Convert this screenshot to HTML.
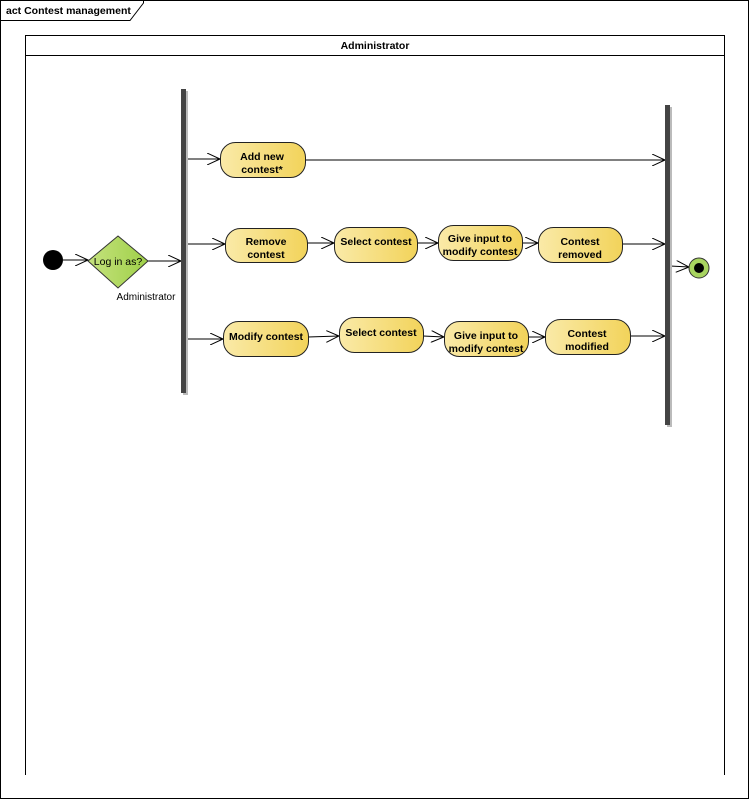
<!DOCTYPE html>
<html><head><meta charset="utf-8"><style>body{margin:0;background:#fff}svg{display:block}text{font-family:"Liberation Sans",Arial,sans-serif;font-size:10.5px;fill:#000}</style></head><body>
<svg width="750" height="800" viewBox="0 0 750 800" xmlns="http://www.w3.org/2000/svg">
<defs>
<linearGradient id="g" x1="0" x2="1" y1="0" y2="0"><stop offset="0" stop-color="#faeaa8"/><stop offset="1" stop-color="#f2d35a"/></linearGradient>
<linearGradient id="gg" x1="0" x2="1" y1="0" y2="0"><stop offset="0" stop-color="#c5e27e"/><stop offset="1" stop-color="#9fd048"/></linearGradient>
<marker id="a" markerWidth="14" markerHeight="12" refX="13" refY="6" orient="auto" markerUnits="userSpaceOnUse"><path d="M0,0 L13,6 L0,12" fill="none" stroke="#000" stroke-width="1"/></marker>
</defs>
<rect x="0.5" y="0.5" width="748" height="798" fill="#fff" stroke="#000"/>
<path d="M0.5,20.5 H130 L143.5,3 V0.5" fill="none" stroke="#000"/>
<text x="6" y="14" font-weight="bold" style="font-size:10.5px">act Contest management</text>
<path d="M25.5,775 V35.5 H724.5 V775" fill="none" stroke="#000"/>
<line x1="25.5" y1="55.5" x2="724.5" y2="55.5" stroke="#000"/>
<text x="375" y="49" text-anchor="middle" font-weight="bold">Administrator</text>
<g stroke="#000" fill="none" marker-end="url(#a)">
<line x1="63" y1="260" x2="88" y2="260"/>
<line x1="148" y1="261" x2="181" y2="261"/>
<line x1="186" y1="159" x2="220" y2="159"/>
<line x1="186" y1="244" x2="225" y2="244"/>
<line x1="186" y1="339" x2="223" y2="339"/>
<line x1="305" y1="160" x2="665" y2="160"/>
<line x1="307" y1="243" x2="334" y2="243"/>
<line x1="417" y1="243" x2="438" y2="243"/>
<line x1="522" y1="243" x2="538" y2="243"/>
<line x1="622" y1="244" x2="665" y2="244"/>
<line x1="308" y1="337" x2="339" y2="336"/>
<line x1="423" y1="336" x2="444" y2="337"/>
<line x1="528" y1="337" x2="545" y2="337"/>
<line x1="630" y1="336" x2="665" y2="336"/>
<line x1="670" y1="266" x2="689" y2="267"/>
</g>
<rect x="183" y="91" width="5" height="304" fill="#bbb"/>
<rect x="181" y="89" width="5" height="304" fill="#444"/>
<rect x="667" y="107" width="5" height="320" fill="#bbb"/>
<rect x="665" y="105" width="5" height="320" fill="#444"/>
<circle cx="53" cy="260" r="10" fill="#000"/>
<polygon points="118,236 148,261 118,288 88,261" fill="url(#gg)" stroke="#333"/>
<text x="118" y="265" text-anchor="middle">Log in as?</text>
<text x="146" y="300" text-anchor="middle" style="font-size:10px">Administrator</text>
<circle cx="699" cy="268" r="10" fill="#a8d460" stroke="#333"/>
<circle cx="699" cy="268" r="5" fill="#000"/>
<g stroke="#222" fill="url(#g)">
<rect x="220.5" y="142.5" width="85" height="35" rx="15"/>
<rect x="225.5" y="228.5" width="82" height="34" rx="15"/>
<rect x="334.5" y="227.5" width="83" height="35" rx="15"/>
<rect x="438.5" y="225.5" width="84" height="35" rx="15"/>
<rect x="538.5" y="227.5" width="84" height="35" rx="15"/>
<rect x="223.5" y="321.5" width="85" height="35" rx="15"/>
<rect x="339.5" y="317.5" width="84" height="35" rx="15"/>
<rect x="444.5" y="321.5" width="84" height="35" rx="15"/>
<rect x="545.5" y="319.5" width="85" height="35" rx="15"/>
</g>
<g font-weight="bold" text-anchor="middle">
<text x="262" y="160">Add new</text><text x="262" y="173">contest*</text>
<text x="266" y="245">Remove</text><text x="266" y="258">contest</text>
<text x="376" y="245">Select contest</text>
<text x="480" y="242">Give input to</text><text x="480" y="255">modify contest</text>
<text x="580" y="245">Contest</text><text x="580" y="258">removed</text>
<text x="266" y="340">Modify contest</text>
<text x="381" y="336">Select contest</text>
<text x="486" y="339">Give input to</text><text x="486" y="352">modify contest</text>
<text x="587" y="337">Contest</text><text x="587" y="350">modified</text>
</g>
</svg>
</body></html>
